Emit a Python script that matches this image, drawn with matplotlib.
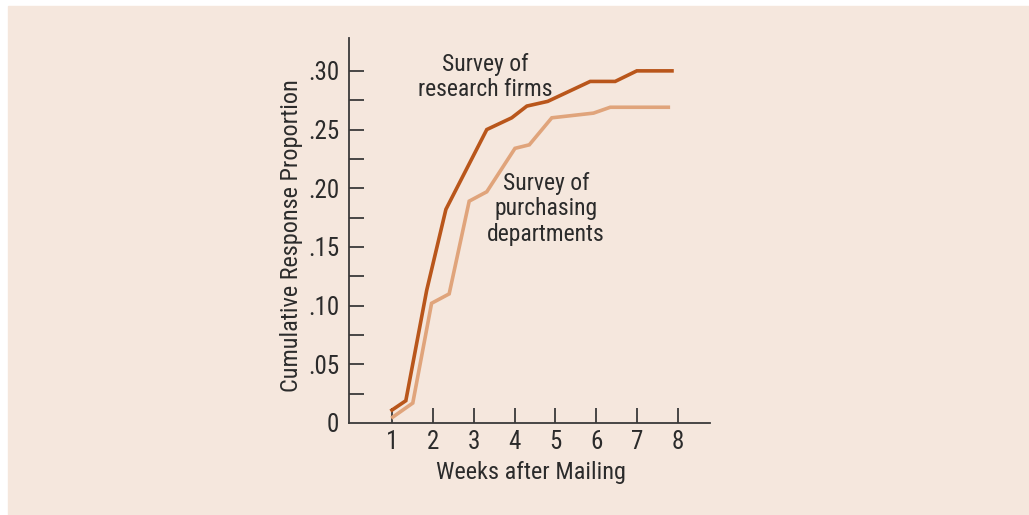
import matplotlib.pyplot as plt
import matplotlib.patches as mpatches

plt.rcParams['font.family'] = ['Roboto Condensed', 'DejaVu Sans']

# Cumulative response by week for the two mail surveys
research_weeks = [1.0, 1.34, 1.85, 2.32, 3.32, 3.93, 4.30, 4.81, 5.85, 6.46, 6.99, 7.85]
research_resp = [0.011, 0.019, 0.113, 0.182, 0.250, 0.260, 0.270, 0.274, 0.291, 0.291, 0.300, 0.300]

purchasing_weeks = [1.02, 1.51, 1.97, 2.40, 2.89, 3.32, 4.01, 4.36, 4.91, 5.93, 6.34, 7.76]
purchasing_resp = [0.005, 0.017, 0.102, 0.110, 0.189, 0.197, 0.234, 0.237, 0.260, 0.264, 0.269, 0.269]

x_ticks = [1, 2, 3, 4, 5, 6, 7, 8]
y_major = [0.05, 0.10, 0.15, 0.20, 0.25, 0.30]
y_labels = ['.05', '.10', '.15', '.20', '.25', '.30']

bg = '#f5e7dd'
dark = '#b9561b'
light = '#e0a47b'
ink = '#2b2b2b'

fig = plt.figure(figsize=(10.29, 5.15), dpi=100)
fig.patch.set_facecolor('white')
panel = mpatches.Rectangle((8 / 1029, 0), 1 - 8 / 1029, 1 - 6 / 515,
                           transform=fig.transFigure, color=bg, zorder=-10)
fig.add_artist(panel)

ax = fig.add_axes([349 / 1029, (515 - 423) / 515, (710 - 349) / 1029, (423 - 38) / 515])
ax.set_facecolor(bg)

ax.plot(purchasing_weeks, purchasing_resp, color=light, lw=2.6, solid_joinstyle='miter')
ax.plot(research_weeks, research_resp, color=dark, lw=2.6, solid_joinstyle='miter')

ax.set_xlim(-0.05, 8.78)
ax.set_ylim(0, 0.328)

ax.spines['top'].set_visible(False)
ax.spines['right'].set_visible(False)
for s in ['left', 'bottom']:
    ax.spines[s].set_color('#3a3a3a')
    ax.spines[s].set_linewidth(1.3)

ax.set_xticks(x_ticks)
ax.set_xticklabels([str(t) for t in x_ticks], fontsize=18, color=ink)
ax.tick_params(axis='x', direction='in', length=11, width=1.3, color='#3a3a3a', pad=5)

ax.set_yticks([0.0] + y_major)
ax.set_yticklabels(['0'] + y_labels, fontsize=18, color=ink)
ax.set_yticks([0.025, 0.075, 0.125, 0.175, 0.225, 0.275], minor=True)
ax.tick_params(axis='y', which='both', direction='in', length=11, width=1.3, color='#3a3a3a', pad=7)
ax.get_yticklines()[0].set_visible(False)
ax.get_yticklines()[1].set_visible(False)

ax.set_xlabel('Weeks after Mailing', fontsize=17.5, color=ink)
ax.set_ylabel('Cumulative Response Proportion', fontsize=17.5, color=ink)
ax.xaxis.set_label_coords(0.5055, -0.099)
ax.yaxis.set_label_coords(-0.127, 0.486)

ax.text(3.28, 0.2949, 'Survey of\nresearch firms', fontsize=17, color=ink,
        ha='center', va='center', linespacing=1.12)
ax.text(4.77, 0.1824, 'Survey of\npurchasing\ndepartments', fontsize=17, color=ink,
        ha='center', va='center', linespacing=1.12)

fig.savefig('out.png', dpi=100, facecolor=fig.get_facecolor())
